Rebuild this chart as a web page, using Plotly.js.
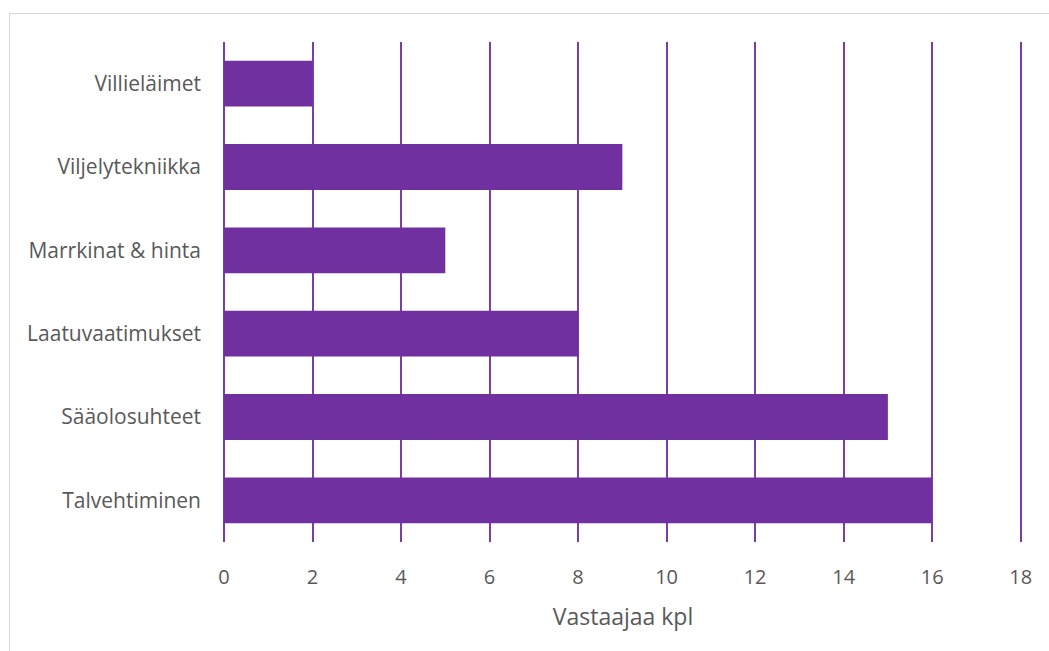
<!DOCTYPE html>
<html>
<head>
<meta charset="utf-8">
<script src="https://cdn.plot.ly/plotly-3.0.1.min.js"></script>
<style>
  html, body { margin: 0; padding: 0; background: #ffffff; overflow: hidden; }
  #frame { position: absolute; left: 9px; top: 13px; width: 1100px; height: 700px; border: 1px solid #d9d9d9; box-sizing: border-box; }
  #chart { position: absolute; left: 0; top: 0; width: 1049px; height: 651px; }
</style>
</head>
<body>
<div id="frame"></div>
<div id="chart"></div>
<script>
const categories = ["Villieläimet", "Viljelytekniikka", "Marrkinat & hinta", "Laatuvaatimukset", "Sääolosuhteet", "Talvehtiminen"];
const values = [2, 9, 5, 8, 15, 16];
const xTicks = [0, 2, 4, 6, 8, 10, 12, 14, 16, 18];
const xTitle = "Vastaajaa kpl";

const purple = "#7030A0";
const gridPurple = "#7a3daa";
const textColor = "#595959";
const fontFamily = "'Open Sans', 'Liberation Sans', sans-serif";

Plotly.newPlot("chart", [{
  type: "bar",
  orientation: "h",
  y: categories,
  x: values,
  width: 0.55,
  marker: { color: purple, line: { width: 0 } },
  hoverinfo: "none"
}], {
  width: 1049,
  height: 651,
  margin: { l: 224, r: 27, t: 42, b: 109 },
  paper_bgcolor: "rgba(0,0,0,0)",
  plot_bgcolor: "rgba(0,0,0,0)",
  showlegend: false,
  font: { family: fontFamily, color: textColor, size: 20 },
  xaxis: {
    range: [0, 18.03],
    tickvals: xTicks,
    ticktext: xTicks.map(String),
    showgrid: true,
    gridcolor: gridPurple,
    gridwidth: 2,
    zeroline: true,
    zerolinecolor: gridPurple,
    zerolinewidth: 2,
    showline: false,
    ticks: "",
    ticklabelstandoff: 21,
    tickfont: { size: 20, color: textColor },
    title: { text: xTitle, font: { size: 23, color: textColor }, standoff: 19 },
    layer: "below traces",
    fixedrange: true
  },
  yaxis: {
    type: "category",
    autorange: "reversed",
    showgrid: false,
    zeroline: false,
    showline: false,
    ticks: "",
    ticklabelstandoff: 22,
    tickfont: { size: 21, color: textColor },
    fixedrange: true
  }
}, { displayModeBar: false, staticPlot: true });
</script>
</body>
</html>
